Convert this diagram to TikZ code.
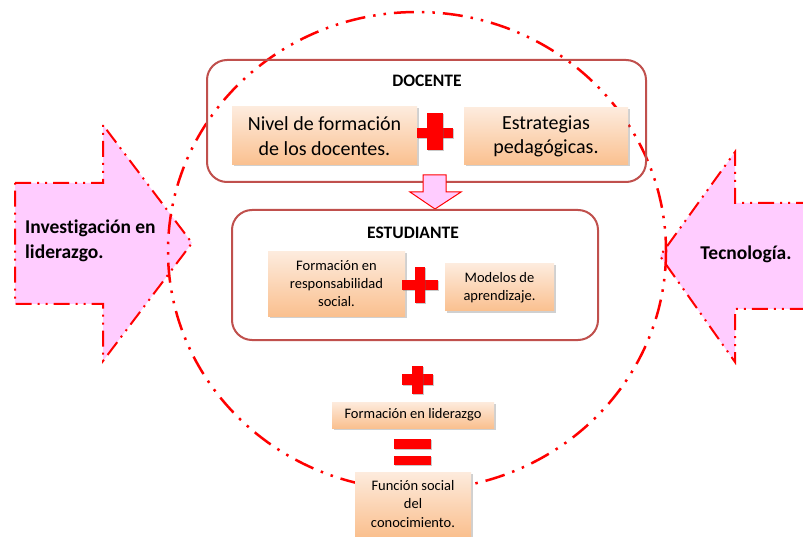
\documentclass[tikz,border=0pt]{standalone}
\usepackage{fontspec}
\setmainfont[Ligatures=NoCommon]{Carlito}
\usetikzlibrary{shadows}
\definecolor{boxline}{HTML}{C0504D}
\definecolor{pinkfill}{HTML}{FFCCFF}
\definecolor{peachtop}{HTML}{FDEBDD}
\definecolor{peachbot}{HTML}{FAC08F}
\definecolor{signred}{HTML}{FF0000}
\tikzset{
  groupbox/.style={draw=boxline, line width=2pt, rounded corners=20pt},
  itembox/.style={rectangle, inner sep=2pt, align=center, text=black,
    top color=peachtop, bottom color=peachbot, draw=none,
    drop shadow={shadow xshift=1.5pt, shadow yshift=-1.5pt, opacity=0.3, fill=black!60}},
  sidearrow/.style={fill=pinkfill, draw=signred, line width=2pt,
    dash pattern=on 16pt off 6pt on 2pt off 6pt on 2pt off 6pt},
  ring/.style={draw=signred, line width=2.5pt,
    dash pattern=on 20pt off 8pt on 2.5pt off 8pt on 2.5pt off 8pt},
  signbar/.style={fill=signred, draw=none,
    drop shadow={shadow xshift=1.2pt, shadow yshift=-1.2pt, opacity=0.35, fill=black!60}},
  heading/.style={font=\bfseries\fontsize{17.5}{21}\selectfont, text=black},
}
\begin{document}
\begin{tikzpicture}[x=1pt,y=-1pt]
\clip (0,0) rectangle (803,537);
\fill[white] (0,0) rectangle (803,537);

% side arrows
\draw[sidearrow] (15,183) -- (103,183) -- (103,125) -- (192,243) -- (103,361)
  -- (103,304) -- (15,304) -- cycle;
\node[anchor=west, align=left, font=\bfseries\fontsize{19.5}{25}\selectfont, inner sep=0pt]
  (invest) at (25,241) {Investigación en\\liderazgo.};
\draw[sidearrow] (812,203) -- (735,203) -- (735,152) -- (660,256) -- (735,362)
  -- (735,309) -- (812,309);
\node[font=\bfseries\fontsize{19.5}{25}\selectfont, inner sep=0pt]
  (tecno) at (746,254) {Tecnología.};

% dash-dotted ring
\draw[ring] (417,251) ellipse [x radius=249, y radius=239];

% DOCENTE group
\draw[groupbox] (207,60) rectangle (646,182);
\node[heading] (docente) at (427,81) {DOCENTE};
\node[itembox, minimum width=185pt, minimum height=58pt,
  font=\fontsize{20}{24.5}\selectfont] (nivel) at (324.5,136)
  {Nivel de formación\\de los docentes.};
\node[itembox, minimum width=164pt, minimum height=57pt,
  font=\fontsize{20}{24.5}\selectfont] (estrat) at (546,136.5)
  {Estrategias\\pedagógicas.};
\fill[signbar] (417,128) rectangle (453,138);
\fill[signbar] (427,113) rectangle (443,150);

% transition arrow
\draw[fill=pinkfill, draw=signred, line width=1pt]
  (423,175) -- (446,175) -- (446,192) -- (461,192) -- (435,209)
  -- (410,192) -- (423,192) -- cycle;

% ESTUDIANTE group
\draw[groupbox, fill=white] (232,210) rectangle (598,340);
\node[heading] (estud) at (413,233) {ESTUDIANTE};
\node[itembox, minimum width=137pt, minimum height=64pt,
  font=\fontsize{14.5}{18}\selectfont] (formresp) at (336.5,284)
  {Formación en\\responsabilidad\\social.};
\node[itembox, minimum width=109pt, minimum height=47pt,
  font=\fontsize{14.5}{18}\selectfont] (modelos) at (499.5,287.5)
  {Modelos de\\aprendizaje.};
\fill[signbar] (402,280) rectangle (438,290);
\fill[signbar] (415,267) rectangle (425,303);

% sum and result
\fill[signbar] (402,374) rectangle (433,385);
\fill[signbar] (412,366) rectangle (423,394);
\node[itembox, minimum width=162pt, minimum height=26pt,
  font=\fontsize{14.5}{18}\selectfont] (lider) at (413,415)
  {Formación en liderazgo};
\fill[signbar] (394,439) rectangle (431,449);
\fill[signbar] (394,456) rectangle (431,465);
\node[itembox, minimum width=116pt, minimum height=64pt,
  font=\fontsize{14.5}{18.5}\selectfont] (funcion) at (413,504)
  {Función social\\del\\conocimiento.};
\end{tikzpicture}
\end{document}
